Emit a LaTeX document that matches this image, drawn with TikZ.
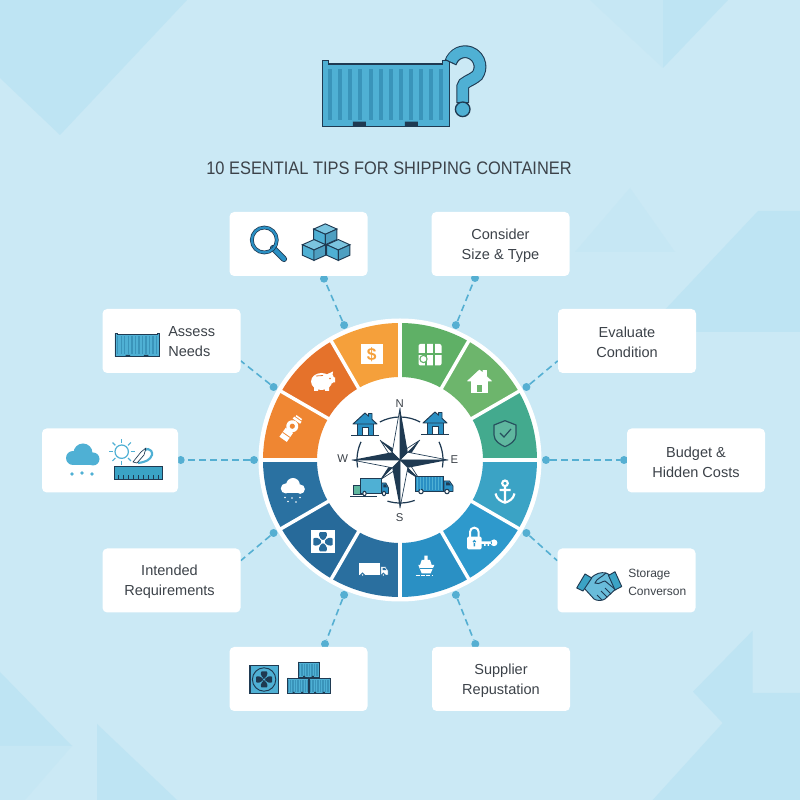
\documentclass[tikz,border=0pt]{standalone}
\usepackage{fontspec}
\setmainfont{Liberation Sans}
\newfontfamily\titlefont[FakeStretch=.905]{Liberation Sans}
\usetikzlibrary{backgrounds,calc}

\definecolor{skybg}{HTML}{CBE9F5}
\definecolor{skytri}{HTML}{BEE4F3}
\definecolor{skyfaint}{HTML}{C6E7F4}
\definecolor{inkdark}{HTML}{1F3A52}
\definecolor{inktext}{HTML}{3C4249}
\definecolor{boxblue}{HTML}{4FB0D4}
\definecolor{ribblue}{HTML}{3A94BA}
\definecolor{linkblue}{HTML}{55AFD2}
\definecolor{wedgeA}{HTML}{5FB066}
\definecolor{wedgeB}{HTML}{6DB56C}
\definecolor{wedgeC}{HTML}{43AA8E}
\definecolor{wedgeD}{HTML}{3BA3C5}
\definecolor{wedgeE}{HTML}{2E99CC}
\definecolor{wedgeF}{HTML}{2A90C4}
\definecolor{wedgeG}{HTML}{2A6F9F}
\definecolor{wedgeH}{HTML}{276A9A}
\definecolor{wedgeI}{HTML}{2A71A1}
\definecolor{wedgeJ}{HTML}{EF8632}
\definecolor{wedgeK}{HTML}{E5722B}
\definecolor{wedgeL}{HTML}{F5A03B}

\tikzset{
    pics/cbox/.style={code={
        \filldraw[fill=boxblue, draw=inkdark] (-63.5,-33) -- (-63.5,33) -- (-57,33) -- (-57,29.7) -- (57,29.7) -- (57,33) -- (63.5,33) -- (63.5,-33) -- cycle;
        \foreach \rx in {-55.7,-45.6,...,56} {
            \fill[ribblue] (\rx-2,-26.3) rectangle (\rx+2,24.3);
        }
        \fill[inkdark] (-33,-33) rectangle (-20,-28) (19,-33) rectangle (32,-28);
    }},
    pics/cubeicon/.style={code={
        \filldraw[fill=boxblue!75!white, draw=inkdark] (0,12) -- (10.4,6) -- (0,0) -- (-10.4,6) -- cycle;
        \filldraw[fill=boxblue, draw=inkdark] (-10.4,6) -- (0,0) -- (0,-12) -- (-10.4,-6) -- cycle;
        \filldraw[fill=ribblue!90!white, draw=inkdark] (10.4,6) -- (0,0) -- (0,-12) -- (10.4,-6) -- cycle;
    }},
    pics/homeicon/.style n args={3}{code={
        \filldraw[fill=#1, draw=#2] (-8,-11) rectangle (8,1);
        \filldraw[fill=#1, draw=#2, line join=round] (-12,0) -- (0,11) -- (3.5,7.8) -- (3.5,10.5) -- (7,10.5) -- (7,4.6) -- (12,0) -- cycle;
        \filldraw[fill=#3, draw=#2] (-3,-11) rectangle (3,-3);
    }},
    pics/lorry/.style n args={3}{code={
        \filldraw[fill=#1, draw=#3] (0,2.5) rectangle (28,18);
        \filldraw[fill=#2, draw=#3, line join=round] (29,2.5) -- (29,13) -- (34.5,13) -- (38,8) -- (38,2.5) -- cycle;
        \fill[#3] (31,8.5) -- (31,11.5) -- (34,11.5) -- (36,8.5) -- cycle;
        \filldraw[fill=white, draw=#3, line width=.8pt] (6,2.5) circle (2.2) (32,2.5) circle (2.2);
    }},
    pics/cloudicon/.style={code={
        \fill (-10,-2) circle (7) (0,3) circle (9.5) (10,-3) circle (6.5);
        \fill (-10,-9) rectangle (10,-2);
    }},
    pics/fanicon/.style={code={
        \foreach \a in {0,90,180,270} {
            \fill[rotate=\a] (.9,0) .. controls (3,3.5) and (7,4) .. (8,2.5) -- (8,-2.5) .. controls (7,-4) and (3,-3.5) .. (.9,0) -- cycle;
        }
    }}
}

\begin{document}
\begin{tikzpicture}[x=.75pt, y=.75pt,
    tipbox/.style={fill=white, rounded corners=3.5pt, minimum width=103.5pt, minimum height=48pt, inner sep=0pt},
    tiptitle/.style={inner sep=0pt, align=center, text=inktext, font=\fontsize{10.9}{15}\selectfont},
    tiptext/.style={inner sep=0pt, align=left, anchor=west, text=inktext},
    tipdot/.style={circle, fill=linkblue, minimum size=6pt, inner sep=0pt},
    tiplink/.style={draw=linkblue, line width=1.2pt, dash pattern=on 5pt off 3.2pt},
    compassmark/.style={text=inktext, font=\fontsize{8.5}{10}\selectfont, inner sep=0pt}
]
\useasboundingbox (0,0) rectangle (800,800);

\node[tipbox] (tipsearch) at (298.5,556) {};
\node[tipbox] (tipsize) at (500.5,556) {};
\node[tipbox] (tipcond) at (627,459) {};
\node[tipbox] (tipbudget) at (696,339.5) {};
\node[tipbox] (tipstorage) at (626.5,219.5) {};
\node[tipbox] (tipsupplier) at (501,121) {};
\node[tipbox] (tipfan) at (298.5,121) {};
\node[tipbox] (tipreq) at (171.5,219.5) {};
\node[tipbox, minimum width=102pt] (tipweather) at (110,339.5) {};
\node[tipbox] (tipassess) at (171.5,459) {};

\node[tiptitle] (textsize) at ($(tipsize)+(0,-1.5)$) {Consider\\Size \& Type};
\node[tiptitle] (textcond) at ($(tipcond)+(0,-1.5)$) {Evaluate\\Condition};
\node[tiptitle] (textbudget) at ($(tipbudget)+(0,-1.5)$) {Budget \&\\Hidden Costs};
\node[tiptitle] (textsupplier) at ($(tipsupplier)+(0,-1.5)$) {Supplier\\Repustation};
\node[tiptitle] (textreq) at ($(tipreq)+(-2,-1.5)$) {Intended\\Requirements};
\node[tiptext, font=\fontsize{10.9}{15}\selectfont] (textassess) at (168,458) {Assess\\Needs};
\node[tiptext, font=\fontsize{9}{13.5}\selectfont] (textstorage) at (628,218) {Storage\\Converson};

\node[text=inktext, font=\titlefont\fontsize{13.6}{16}\selectfont, inner sep=0pt] (title) at (389,632) {10 ESENTIAL TIPS FOR SHIPPING CONTAINER};

\begin{pgfonlayer}{background}
    \fill[skybg] (0,0) rectangle (800,800);
    \fill[skytri] (0,800) -- (187,800) -- (60,665) -- (0,722) -- cycle;
    \fill[skyfaint] (590,800) -- (663,732) -- (663,800) -- cycle;
    \fill[skytri] (663,800) -- (728,800) -- (663,732) -- cycle;
    \fill[skyfaint] (630,612) -- (575,548) -- (675,548) -- cycle;
    \fill[skytri] (758,589) -- (800,589) -- (800,468) -- (644,468) -- cycle;
    \fill[skytri] (0,128) -- (72,54) -- (0,54) -- cycle;
    \fill[skyfaint] (0,54) -- (72,54) -- (25,0) -- (0,0) -- cycle;
    \fill[skytri] (97,76) -- (177,0) -- (97,0) -- cycle;
    \fill[skytri] (752.7,169.3) -- (693,108.3) -- (722.7,77) -- (652.7,0) -- (800,0) -- (800,107) -- (752.7,107) -- cycle;

    \foreach \name/\a in {ringsearch/112.5,ringassess/150,ringweather/180,ringreq/210,ringfan/247.5,ringsupplier/292.5,ringstorage/330,ringbudget/0,ringcond/30,ringsize/67.5} {
        \node[tipdot] (\name) at ($(400,340)+(\a:146)$) {};
    }
    \node[tipdot] (endsearch) at (324,521.3) {};
    \node[tipdot] (endsize) at (475,522) {};
    \node[tipdot] (endbudget) at (624,340) {};
    \node[tipdot] (endsupplier) at (475.3,156) {};
    \node[tipdot] (endfan) at (325,156) {};
    \node[tipdot] (endweather) at (180.7,340) {};

    \draw[tiplink] (ringsearch) -- (endsearch);
    \draw[tiplink] (ringsize) -- (endsize);
    \draw[tiplink] (ringbudget) -- (endbudget);
    \draw[tiplink] (ringsupplier) -- (endsupplier);
    \draw[tiplink] (ringfan) -- (endfan);
    \draw[tiplink] (ringweather) -- (endweather);
    \draw[tiplink] (ringassess) -- (tipassess.-16);
    \draw[tiplink] (ringcond) -- (tipcond.196);
    \draw[tiplink] (ringreq) -- (tipreq.16);
    \draw[tiplink] (ringstorage) -- (tipstorage.164);
\end{pgfonlayer}

\fill[white] (400,340) circle (141.5);
\begin{scope}[shift={(400,340)}]
    \foreach \a/\wc in {90/wedgeA,60/wedgeB,30/wedgeC,0/wedgeD,-30/wedgeE,-60/wedgeF,-90/wedgeG,-120/wedgeH,-150/wedgeI,180/wedgeJ,150/wedgeK,120/wedgeL} {
        \fill[\wc] (\a:83) arc (\a:\a-30:83) -- (\a-30:137) arc (\a-30:\a:137) -- cycle;
    }
    \foreach \a in {0,30,...,330} {
        \draw[white, line width=2.6pt] (\a:80) -- (\a:139);
    }
    \foreach \a in {45,135,225,315} {
        \filldraw[fill=white, draw=inkdark, line width=.5pt, line join=round] (0,0) -- (\a:28) -- (\a+45:7) -- cycle;
        \fill[inkdark] (0,0) -- (\a:28) -- (\a-45:7) -- cycle;
    }
    \draw[inkdark, line width=.9pt] (118:43) arc (118:62:43) (25:43) arc (25:-10:43) (-70:43) arc (-70:-107:43) (190:43) arc (190:155:43);
    \foreach \a/\r in {0/48,90/52,180/48,270/48} {
        \filldraw[fill=white, draw=inkdark, line width=.5pt, line join=round] (0,0) -- (\a:\r) -- (\a+45:11) -- cycle;
        \fill[inkdark] (0,0) -- (\a:\r) -- (\a-45:11) -- cycle;
    }
\end{scope}
\node[compassmark] (markn) at (399.7,396.3) {N};
\node[compassmark] (marks) at (399.7,282.7) {S};
\node[compassmark] (markw) at (342.7,341.3) {W};
\node[compassmark] (marke) at (454.3,340.7) {E};

\pic[line width=.7pt] at (365,376) {homeicon={wedgeF}{inkdark}{white}};
\pic[line width=.7pt] at (435,377) {homeicon={wedgeF}{inkdark}{white}};
\draw[inkdark, line width=.7pt] (351,365) -- (379,365) (421,366) -- (449,366);
\filldraw[fill=wedgeC!85!white, draw=inkdark, line width=.7pt] (353.3,305.7) rectangle (362.7,314.3);
\pic[line width=.6pt, xscale=.75] at (360,304) {lorry={boxblue}{wedgeF}{inkdark}};
\draw[inkdark, line width=.7pt] (350,304) -- (376.7,304);
\pic[line width=.6pt] at (415,306) {lorry={wedgeF}{wedgeF}{inkdark}};
\foreach \rx in {2,5,...,26} {
    \draw[boxblue, line width=.6pt] (415+\rx,310) -- (415+\rx,322.5);
}

% wedge icons, clockwise from the top
\fill[white, rounded corners=1.5pt] (418.5,434.5) rectangle (441.5,456);
\draw[wedgeA, line width=.8pt] (426,434) -- (426,456.5) (434,434) -- (434,456.5) (418,446) -- (442,446);
\filldraw[fill=white, draw=wedgeA, line width=.8pt] (423.5,441) circle (3.6);
\pic[line width=.4pt, scale=1] at (479.5,419) {homeicon={white}{white}{wedgeB}};
\filldraw[fill=wedgeC!85!white, draw=inkdark!80!wedgeC, line width=.9pt, line join=round] (505,379.3) -- (516,375) -- (516,365) .. controls (516,359) and (510,355.5) .. (505,353.3) .. controls (500,355.5) and (494,359) .. (494,365) -- (494,375) -- cycle;
\draw[inkdark!80!wedgeC, line width=.9pt] (500,367) -- (504,363) -- (511,371);
\draw[white, line width=1.6pt] (505,316.7) circle (2.8) (505,313.9) -- (505,297.5) (499.5,310) -- (510.5,310) (495.5,306.5) .. controls (496.5,301) and (501,298.5) .. (505,297.3) .. controls (509,298.5) and (513.5,301) .. (514.5,306.5);
\fill[white, rounded corners=1pt] (467,250.7) rectangle (481.7,263.3);
\draw[white, line width=1.5pt] (470,263) -- (470,268) arc (180:0:4.35) -- (478.7,263);
\fill[wedgeE] (474.3,258.5) circle (1.8) (473.5,253.5) rectangle (475.1,258);
\fill[white] (481,256) rectangle (492,258.5) (484,254) rectangle (485.5,256) (487.5,254) rectangle (489,256) (494,257.2) circle (3.4);
\fill[white, line join=round] (418.3,235) -- (434.3,235) -- (430.7,226.7) -- (421.7,226.7) -- cycle;
\fill[white] (421.7,240) -- (430,240) -- (431.7,235) -- (420,235) -- cycle (424.3,244.3) rectangle (427.7,240);
\draw[wedgeF, line width=.5pt] (420,232) -- (432.5,232);
\draw[white, line width=.7pt, dash pattern=on 3pt off 1pt] (415.7,224.3) -- (433.3,224.3);
\pic[line width=.3pt, scale=.8] at (357.7,223) {lorry={white}{white}{wedgeG}};
\fill[white] (311,246.7) rectangle (335,270);
\pic[wedgeH, scale=1.2] at (323,258.3) {fanicon};
\fill[white] (323,258.3) circle (2);
\pic[white, scale=.72] at (293,313) {cloudicon};
\fill[white] (285,302.5) circle (.9) (292,302) circle (.9) (300,302.5) circle (.9) (288,298.5) circle (.9) (296,298) circle (.9);
\begin{scope}[shift={(290,370.5)}, rotate=-35]
    \fill[white] (0,4) circle (6);
    \fill[white] (-4.5,-12) rectangle (4.5,-1);
    \fill[wedgeJ] (0,4) circle (2.6);
    \fill[white] (-4,10.5) rectangle (5,13) (-3,14) rectangle (4,15.5);
    \draw[wedgeJ, line width=.6pt] (-4.5,-6.5) -- (4.5,-6.5);
\end{scope}
\fill[white] (321.5,418.5) ellipse (10.5 and 8.5) (329,421) circle (5.5);
\fill[white] (314,409) rectangle (318,413) (325,409) rectangle (329,413) (332,417.5) rectangle (335,422.5);
\fill[white] (326,425) -- (333,428.5) -- (332,421) -- cycle;
\fill[wedgeK] (330,421.5) circle (.9);
\draw[wedgeK, line width=.6pt] (316,424) -- (323,424.5);
\fill[white] (361,435.7) rectangle (382.7,455.7);
\node[text=wedgeL, font=\fontsize{13}{13}\bfseries\selectfont, inner sep=0pt] (dollar) at (371.8,445.7) {\$};

% icons in the boxes
\pic[line width=1pt] at (385.8,706.3) {cbox};
\draw[boxblue, line width=8pt, preaction={draw=inkdark, line width=9.6pt, shorten <=-.9pt, shorten >=-.9pt}] (450.9,738.4) arc (160:-35:15) .. controls (471,719) and (462.7,718) .. (462.7,713.3) -- (462.7,698);
\filldraw[fill=boxblue, draw=inkdark, line width=1pt] (462.7,690.7) circle (7.3);

\draw[inkdark, line width=4.6pt, line cap=round] (273,552) -- (284,541);
\draw[wedgeF, line width=3.2pt, line cap=round] (273,552) -- (284,541);
\draw[inkdark, line width=2.8pt] (264.3,560) circle (12.5);
\draw[wedgeF, line width=1.7pt] (264.3,560) circle (12.5);
\pic[line width=.7pt, xscale=1.12, yscale=.87] at (325.3,565.7) {cubeicon};
\pic[line width=.7pt, xscale=1.12, yscale=.87] at (314,550) {cubeicon};
\pic[line width=.7pt, xscale=1.12, yscale=.87] at (338.3,550) {cubeicon};

\pic[line width=.6pt, scale=.35] at (137.2,455) {cbox};

\pic[boxblue] at (83,344) {cloudicon};
\fill[boxblue] (72,326) circle (1.8) (82,327) circle (1.8) (92,326) circle (1.8);
\draw[boxblue, line width=.9pt] (121.7,348.3) circle (6.7);
\foreach \a in {0,45,...,315} {
    \draw[boxblue, line width=.9pt] ($(121.7,348.3)+(\a:9)$) -- ($(121.7,348.3)+(\a:13)$);
}
\draw[boxblue, line width=1.6pt] (138,337) .. controls (146,338) and (150,340) .. (152,345) .. controls (153,352) and (144,353) .. (143,347);
\draw[inkdark, fill=white, line width=.5pt, line join=round] (133,338) -- (141,348) -- (146,352) -- (144,345) -- (137,337) -- cycle;
\filldraw[fill=wedgeD, draw=inkdark, line width=.7pt] (114,320.7) rectangle (162.3,333.3);
\foreach \rx in {118,123,...,158} {
    \draw[inkdark, line width=.7pt] (\rx,321) -- (\rx,325);
}

\filldraw[fill=boxblue, draw=inkdark, line width=.8pt] (250,106.3) rectangle (278.3,134.7);
\draw[inkdark, line width=.7pt] (264.1,120.5) circle (11.7);
\pic[inkdark] at (264.1,120.5) {fanicon};
\filldraw[fill=boxblue, draw=inkdark, line width=.4pt] (264.1,120.5) circle (1.8);
\pic[line width=.5pt, xscale=.165, yscale=.23] at (308.5,130.5) {cbox};
\pic[line width=.5pt, xscale=.165, yscale=.23] at (298,114.5) {cbox};
\pic[line width=.5pt, xscale=.165, yscale=.23] at (319.5,114.5) {cbox};

\filldraw[fill=boxblue!85!white, draw=inkdark, line width=.7pt, line join=round] (590.5,221.5) .. controls (596,227) and (601,228) .. (606,227) -- (614,223) -- (619,214) -- (605,201) .. controls (602,199) and (597,199) .. (594,201) -- (584,212) -- cycle;
\draw[inkdark, line width=.7pt] (606,227) .. controls (601,222) and (597,222) .. (595,217) .. controls (600,215) and (602,219) .. (605,219) -- (616,210) (611,206) -- (605,212) (607,203) -- (601,209) (602,200) -- (597,205);
\filldraw[fill=wedgeD, draw=inkdark, line width=.7pt, line join=round] (576.7,212) -- (585,226) -- (591.7,222) -- (583,209) -- cycle;
\filldraw[fill=wedgeD, draw=inkdark, line width=.7pt, line join=round] (608.5,224.5) -- (615,228.3) -- (621.7,213.5) -- (615,210) -- cycle;

\end{tikzpicture}
\end{document}
